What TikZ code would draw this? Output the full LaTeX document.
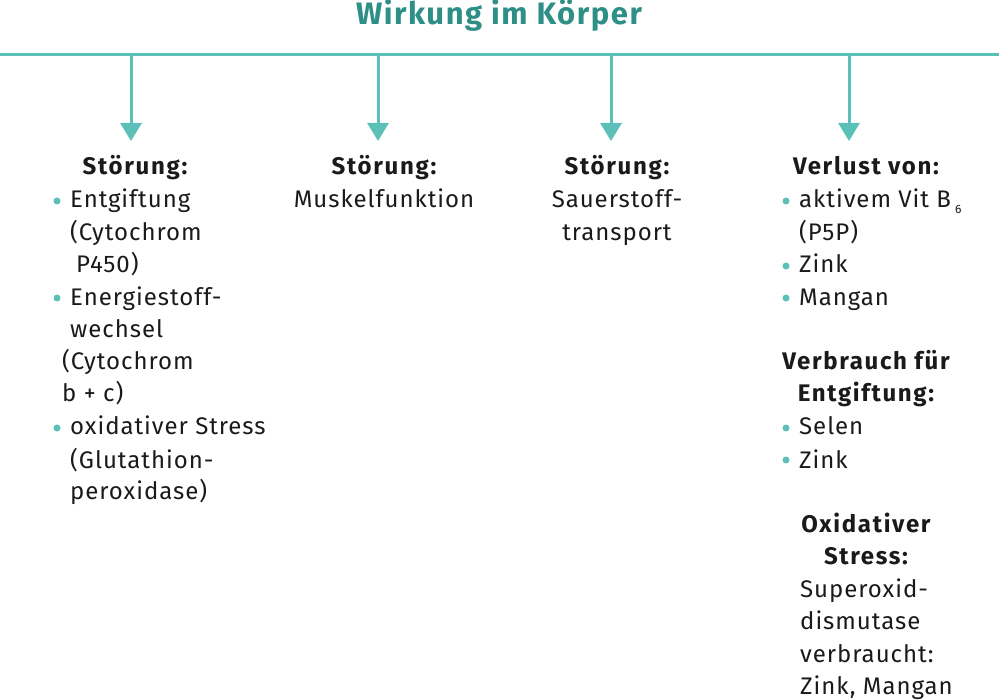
\documentclass[tikz,border=0pt]{standalone}
\usepackage{fontspec}
\setmainfont{Fira Sans}[LetterSpace=4]
\usetikzlibrary{arrows.meta}
\definecolor{titleteal}{HTML}{2E8F87}
\definecolor{lineteal}{HTML}{5BC0B8}
\definecolor{txt}{HTML}{1A1A1A}
\tikzset{
  txtline/.style={inner sep=0pt, anchor=base, text=txt, font=\fontsize{24}{28}\selectfont},
  lline/.style={txtline, anchor=base west},
  head/.style={inner sep=0pt, anchor=base, text=txt, font=\fontsize{24}{28}\selectfont\bfseries\addfontfeatures{LetterSpace=7}},
  bul/.style={circle, fill=lineteal, inner sep=0pt, minimum size=7pt},
  conn/.style={draw=lineteal, line width=3pt, -{Triangle[width=21pt,length=18pt]}},
  bar/.style={draw=lineteal, line width=3pt},
}
\begin{document}
\begin{tikzpicture}[x=1pt,y=-1pt]
\useasboundingbox (0,0) rectangle (999,700);
\node[inner sep=0pt, anchor=base, text=titleteal, font=\fontsize{31}{34}\selectfont\bfseries\addfontfeatures{LetterSpace=5}] (title) at (499,25) {Wirkung im Körper};
\coordinate (L) at (0,55);
\coordinate (R) at (999,55);
\draw[bar] (L) -- (R);
\foreach \n/\x in {a/131,b/378,c/611,d/849}{
  \coordinate (s\n) at (\x,55);
  \coordinate (e\n) at (\x,141);
  \draw[conn] (s\n) -- (e\n);
}
% column 1
\node[head] (h1) at (135,175) {Störung:};
\node[bul] (b1) at (57,201) {};
\node[lline] (c1l1) at (70,208) {Entgiftung};
\node[lline] (c1l2) at (70,241) {(Cytochrom};
\node[lline] (c1l3) at (76,273) {P450)};
\node[bul] (b2) at (57,298) {};
\node[lline] (c1l4) at (70,306) {Energiestoff-};
\node[lline] (c1l5) at (70,338) {wechsel};
\node[lline] (c1l6) at (62,370) {(Cytochrom};
\node[lline] (c1l7) at (62,402) {b + c)};
\node[bul] (b3) at (57,428) {};
\node[lline] (c1l8) at (70,435) {oxidativer Stress};
\node[lline] (c1l9) at (70,468) {(Glutathion-};
\node[lline] (c1l10) at (70,500) {peroxidase)};
% column 2
\node[head] (h2) at (384,175) {Störung:};
\node[txtline] (c2l1) at (384,208) {Muskelfunktion};
% column 3
\node[head] (h3) at (617,175) {Störung:};
\node[txtline] (c3l1) at (617,208) {Sauerstoff-};
\node[txtline] (c3l2) at (617,241) {transport};
% column 4
\node[head] (h4) at (866,175) {Verlust von:};
\node[bul] (b4) at (786,201) {};
\node[lline] (c4l1) at (799,208) {aktivem Vit B\,{\fontsize{12}{12}\selectfont\raisebox{-6pt}{6}}};
\node[lline] (c4l2) at (799,241) {(P5P)};
\node[bul] (b5) at (786,266) {};
\node[lline] (c4l3) at (799,273) {Zink};
\node[bul] (b6) at (786,298) {};
\node[lline] (c4l4) at (799,306) {Mangan};
\node[head] (h5) at (866,370) {Verbrauch für};
\node[head] (h6) at (866,402) {Entgiftung:};
\node[bul] (b7) at (786,428) {};
\node[lline] (c4l5) at (799,435) {Selen};
\node[bul] (b8) at (786,460) {};
\node[lline] (c4l6) at (799,468) {Zink};
\node[head] (h7) at (866,532) {Oxidativer};
\node[head] (h8) at (866,564) {Stress:};
\node[lline] (c4l7) at (800,597) {Superoxid-};
\node[lline] (c4l8) at (800,629) {dismutase};
\node[lline] (c4l9) at (800,662) {verbraucht:};
\node[lline] (c4l10) at (800,694) {Zink, Mangan};
\end{tikzpicture}
\end{document}
